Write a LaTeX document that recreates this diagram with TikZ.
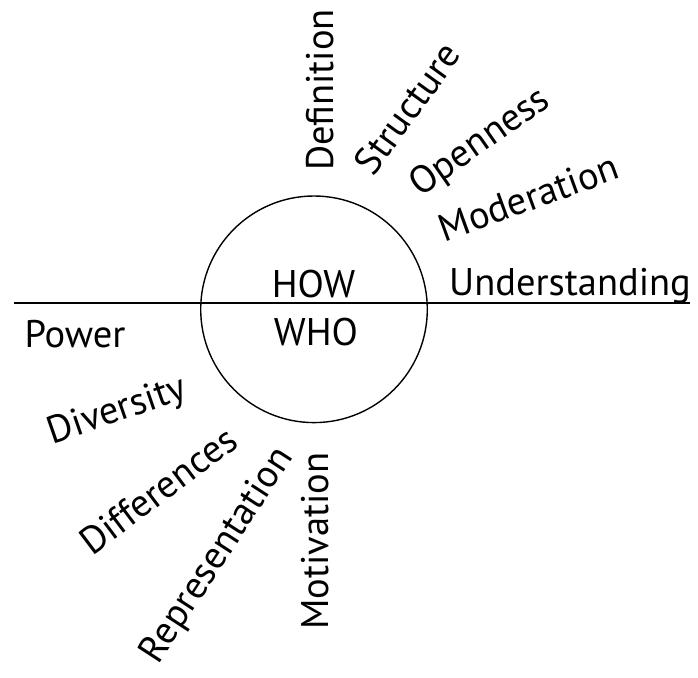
\documentclass[tikz,border=0pt]{standalone}
\usepackage{fontspec}
\setmainfont{PT Sans}
\begin{document}
\begin{tikzpicture}[x=1pt, y=-1pt,
    word/.style={anchor=base, inner sep=0pt, font=\fontsize{38.5}{40}\selectfont},
    rim/.style={line width=1.4pt}]
    \useasboundingbox (0,0) rectangle (698,677);

    \node (hub) [circle, draw, rim, minimum size=226.6pt, inner sep=0pt] at (314,309.3) {};
    \coordinate (west) at (14,303);
    \coordinate (east) at (690,303);
    \draw[rim] (west) -- (east);

    \node (how) [word] at (313.5,297) {HOW};
    \node (who) [word] at (316,345) {WHO};

    % upper half
    \node (understanding) [word] at (570,295) {Understanding};
    \node (moderation) [word, rotate=20] at (533,210) {Moderation};
    \node (openness) [word, rotate=35] at (486,151) {Openness};
    \node (structure) [word, rotate=54] at (418,116) {Structure};
    \node (definition) [word, rotate=90] at (333,90) {Definition};

    % lower half
    \node (power) [word] at (75,347) {Power};
    \node (diversity) [word, rotate=19] at (120.5,421) {Diversity};
    \node (differences) [word, rotate=37] at (166,501) {Differences};
    \node (representation) [word, rotate=57] at (226,561) {Representation};
    \node (motivation) [word, rotate=90] at (328,541) {Motivation};

\end{tikzpicture}
\end{document}
